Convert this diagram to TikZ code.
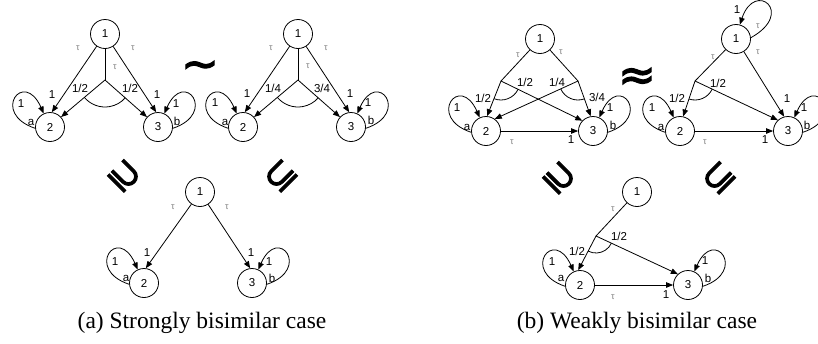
\documentclass[tikz,border=0pt]{standalone}
\usepackage{fontspec}
\usetikzlibrary{arrows.meta,calc}
\newfontfamily\gfont{Liberation Sans}
\newfontfamily\capfont{Liberation Serif}
\newfontfamily\symfont[FakeBold=2.5]{DejaVu Sans}
\tikzset{
  st/.style={circle,draw,line width=0.8pt,minimum size=29pt,inner sep=0pt,font=\gfont\fontsize{11.5}{12}\selectfont},
  arr/.style={line width=0.8pt,-{Triangle[length=7pt,width=5.5pt]}},
  ln/.style={line width=0.8pt},
  lbl/.style={font=\gfont\fontsize{11.5}{12}\selectfont,inner sep=0pt},
  tlb/.style={font=\gfont\fontsize{9}{10}\selectfont,text=gray,inner sep=0pt},
  captxt/.style={font=\capfont\fontsize{23.5}{26}\selectfont,inner sep=0pt},
  sym/.style={font=\symfont\fontsize{38}{40}\selectfont,inner sep=0pt},
  bigsym/.style={font=\symfont\fontsize{45}{48}\selectfont,inner sep=0pt},
}
\newcommand\lpL[1]{\draw[arr] (#1.185) .. controls +(-45,15) and +(-20,45) .. (#1.115);}
\newcommand\lpR[1]{\draw[arr] (#1.355) .. controls +(45,15) and +(20,45) .. (#1.65);}
\newcommand\lb[4]{\node[lbl] (#1) at (#2,-#3) {#4};}
\newcommand\tb[3]{\node[tlb] (#1) at (#2,-#3) {τ};}
\begin{document}
\begin{tikzpicture}[x=1pt,y=1pt]
\useasboundingbox (0,0) rectangle (818,-343);
% ---------- graph A (top left)
\node[st] (a1) at (105,-34) {1};
\node[st] (a2) at (50,-127) {2};
\node[st] (a3) at (158,-127) {3};
\coordinate (ab) at (105,-80);
\draw[arr] (a1) -- (a2.83);
\draw[arr] (a1) -- (a3.97);
\draw[ln] (a1) -- (ab);
\draw[arr] (ab) -- (a2.42);
\draw[arr] (ab) -- (a3.138);
\draw[ln] ([shift={(220:27)}]ab) arc[start angle=220,end angle=319,radius=27];
\lpL{a2} \lpR{a3}
\tb{at1}{78}{48} \tb{at2}{133}{48} \tb{at3}{115}{67}
\lb{al1}{52}{95}{1} \lb{al2}{157}{95}{1}
\lb{al3}{80}{88}{1/2} \lb{al4}{130}{88}{1/2}
\lb{al5}{21}{104}{1} \lb{al6}{31}{122}{a}
\lb{al7}{176}{104}{1} \lb{al8}{177}{121}{b}
% ---------- graph B (top second)
\node[st] (b1) at (298,-34) {1};
\node[st] (b2) at (243,-127) {2};
\node[st] (b3) at (351,-127) {3};
\coordinate (bb) at (298,-80);
\draw[arr] (b1) -- (b2.83);
\draw[arr] (b1) -- (b3.97);
\draw[ln] (b1) -- (bb);
\draw[arr] (bb) -- (b2.42);
\draw[arr] (bb) -- (b3.138);
\draw[ln] ([shift={(220:27)}]bb) arc[start angle=220,end angle=319,radius=27];
\lpL{b2} \lpR{b3}
\tb{bt1}{271}{48} \tb{bt2}{326}{48} \tb{bt3}{308}{66}
\lb{bl1}{247}{94}{1} \lb{bl2}{350}{94}{1}
\lb{bl3}{273}{88}{1/4} \lb{bl4}{322}{88}{3/4}
\lb{bl5}{215}{103}{1} \lb{bl6}{225}{122}{a}
\lb{bl7}{368}{103}{1} \lb{bl8}{371}{120}{b}
% ---------- graph C (bottom left)
\node[st] (c1) at (200,-192) {1};
\node[st] (c2) at (144,-283) {2};
\node[st] (c3) at (252,-283) {3};
\draw[arr] (c1) -- (c2.83);
\draw[arr] (c1) -- (c3.97);
\lpL{c2} \lpR{c3}
\tb{ct1}{173}{207} \tb{ct2}{227}{207}
\lb{cl1}{147}{253}{1} \lb{cl2}{251}{253}{1}
\lb{cl5}{115}{262}{1} \lb{cl6}{126}{278}{a}
\lb{cl7}{269}{262}{1} \lb{cl8}{272}{278}{b}
% ---------- graph D (top third)
\node[st] (d1) at (540,-39) {1};
\node[st] (d2) at (486,-131) {2};
\node[st] (d3) at (593,-131) {3};
\coordinate (dbl) at (501,-81);
\coordinate (dbr) at (578,-81);
\draw[ln] (d1) -- (dbl);
\draw[ln] (d1) -- (dbr);
\draw[arr] (dbl) -- (d2.86);
\draw[arr] (dbl) -- (d3.136);
\draw[arr] (dbr) -- (d2.54);
\draw[arr] (dbr) -- (d3.99);
\draw[arr] (d2) -- (d3);
\draw[ln] ([shift={(248.5:19)}]dbl) arc[start angle=248.5,end angle=333.9,radius=19];
\draw[ln] ([shift={(204.6:19)}]dbr) arc[start angle=204.6,end angle=289.6,radius=19];
\lpL{d2} \lpR{d3}
\tb{dt1}{518}{55} \tb{dt2}{561}{52} \tb{dt3}{512}{142}
\lb{dl1}{483}{98}{1/2} \lb{dl2}{525}{82}{1/2}
\lb{dl3}{557}{82}{1/4} \lb{dl4}{597}{97}{3/4}
\lb{dl9}{571}{140}{1}
\lb{dl5}{457}{108}{1} \lb{dl6}{467}{127}{a}
\lb{dl7}{610}{108}{1} \lb{dl8}{613}{125}{b}
% ---------- graph E (top right)
\node[st] (e1) at (736,-39) {1};
\node[st] (e2) at (680,-131) {2};
\node[st] (e3) at (788,-131) {3};
\coordinate (eb) at (695,-81);
\draw[ln] (e1) -- (eb);
\draw[arr] (e1) -- (e3.105);
\draw[arr] (eb) -- (e2.78);
\draw[arr] (eb) -- (e3.133);
\draw[arr] (e2) -- (e3);
\draw[ln] ([shift={(251.5:19)}]eb) arc[start angle=251.5,end angle=334.6,radius=19];
\draw[arr] (e1.5) .. controls +(45,25) and +(15,45) .. (e1.75);
\lpL{e2} \lpR{e3}
\tb{et1}{713}{57} \tb{et2}{758}{52} \tb{et3}{705}{142} \tb{et4}{758}{26}
\lb{el0}{737}{10}{1}
\lb{el1}{787}{99}{1}
\lb{el2}{677}{98}{1/2} \lb{el3}{718}{83}{1/2}
\lb{el4}{765}{140}{1}
\lb{el5}{652}{108}{1} \lb{el6}{661}{127}{a}
\lb{el7}{804}{108}{1} \lb{el8}{807}{125}{b}
% ---------- graph F (bottom right)
\node[st] (f1) at (637,-192) {1};
\node[st] (f2) at (580,-285) {2};
\node[st] (f3) at (688,-285) {3};
\coordinate (fb) at (596,-236);
\draw[ln] (f1) -- (fb);
\draw[arr] (fb) -- (f2.97);
\draw[arr] (fb) -- (f3.133);
\draw[arr] (f2) -- (f3);
\draw[ln] ([shift={(242.8:17)}]fb) arc[start angle=242.8,end angle=334.9,radius=17];
\lpL{f2} \lpR{f3}
\tb{ft1}{613}{209} \tb{ft2}{613}{297}
\lb{fl1}{577}{251}{1/2} \lb{fl2}{619}{236}{1/2}
\lb{fl3}{666}{295}{1}
\lb{fl5}{552}{262}{1} \lb{fl6}{561}{278}{a}
\lb{fl7}{705}{261}{1} \lb{fl8}{708}{278}{b}
% ---------- relation symbols
\node[bigsym] (s0) at (200,-70) {∼};
\node[bigsym] (s5) at (637,-79) {≈};
\node[sym,rotate=-45] (s1) at (124,-176) {⊇};
\node[sym,rotate=45] (s2) at (281,-176) {⊆};
\node[sym,rotate=-45] (s3) at (559,-178) {⊇};
\node[sym,rotate=45] (s4) at (719,-178) {⊆};
% ---------- captions
\node[captxt,anchor=base] (capa) at (202,-328) {(a) Strongly bisimilar case};
\node[captxt,anchor=base] (capb) at (637,-328) {(b) Weakly bisimilar case};
\end{tikzpicture}
\end{document}
